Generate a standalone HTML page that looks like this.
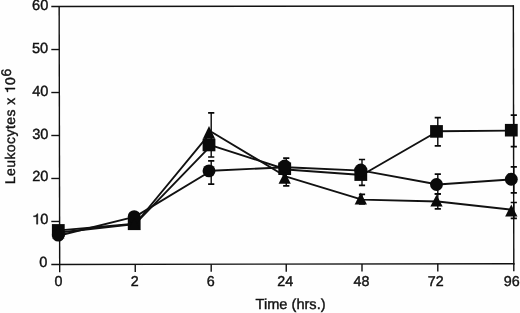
<!DOCTYPE html>
<html><head><meta charset="utf-8"><title>chart</title>
<style>
html,body{margin:0;padding:0;background:#fff;}
body{width:520px;height:313px;overflow:hidden;}
svg{display:block;}
text{font-family:"Liberation Sans",sans-serif;fill:#111;stroke:#111;stroke-width:0.4;text-rendering:geometricPrecision;}
svg{opacity:0.999;}
</style></head><body>
<svg width="520" height="313" viewBox="0 0 520 313">
<defs><filter id="gs" x="-5%" y="-5%" width="110%" height="110%" color-interpolation-filters="sRGB"><feColorMatrix type="saturate" values="0"/></filter></defs>
<rect width="520" height="313" fill="#fefefe"/>
<g filter="url(#gs)">

<g stroke="#111" stroke-width="1.4" fill="none" stroke-linecap="butt">
<path d="M59.15 5.9L59.7 272.2"/>
<path d="M51.3 6.55L514.0 5.95"/>
<path d="M513.35 5.45L513.8 264.4"/>
<path d="M51.3 264.45L514.5 263.75"/>
<path d="M51.3 221.47H59.72"/>
<path d="M51.3 178.48H59.63"/>
<path d="M51.3 135.50H59.55"/>
<path d="M51.3 92.52H59.47"/>
<path d="M51.3 49.53H59.38"/>
<path d="M135.25 264.32V271.92"/>
<path d="M211.20 264.21V271.81"/>
<path d="M286.25 264.09V271.69"/>
<path d="M362.00 263.98V271.58"/>
<path d="M437.80 263.87V271.47"/>
<path d="M513.80 263.75V271.35"/>
</g>
<g stroke="#080808" fill="none">
<path stroke-width="1.4" d="M211.20 112.80V157.00"/><path stroke-width="1.7" d="M208.10 112.80H214.30M208.10 157.00H214.30"/>
<path stroke-width="1.4" d="M211.20 160.80V184.20"/><path stroke-width="1.7" d="M208.10 160.80H214.30M208.10 184.20H214.30"/>
<path stroke-width="1.4" d="M286.25 158.20V185.80"/><path stroke-width="1.7" d="M283.15 158.20H289.35M283.15 185.80H289.35"/>
<path stroke-width="1.4" d="M362.00 159.50V185.40"/><path stroke-width="1.7" d="M358.90 159.50H365.10M358.90 185.40H365.10"/>
<path stroke-width="1.4" d="M362.00 194.30V204.00"/><path stroke-width="1.7" d="M358.90 194.30H365.10M358.90 204.00H365.10"/>
<path stroke-width="1.4" d="M437.80 117.70V145.80"/><path stroke-width="1.7" d="M434.70 117.70H440.90M434.70 145.80H440.90"/>
<path stroke-width="1.4" d="M437.80 174.20V193.90"/><path stroke-width="1.7" d="M434.70 174.20H440.90M434.70 193.90H440.90"/>
<path stroke-width="1.4" d="M437.80 194.00V208.80"/><path stroke-width="1.7" d="M434.70 194.00H440.90M434.70 208.80H440.90"/>
<path stroke-width="1.4" d="M513.80 115.10V146.60"/><path stroke-width="1.7" d="M510.70 115.10H516.90M510.70 146.60H516.90"/>
<path stroke-width="1.4" d="M513.80 166.90V192.80"/><path stroke-width="1.7" d="M510.70 166.90H516.90M510.70 192.80H516.90"/>
<path stroke-width="1.4" d="M513.80 202.50V218.30"/><path stroke-width="1.7" d="M510.70 202.50H516.90M510.70 218.30H516.90"/>
</g>
<g stroke="#111" stroke-width="1.90" fill="none" stroke-linejoin="round">
<polyline points="59.30,230.40 135.25,223.80 211.20,145.30 286.25,169.50 362.00,175.00 437.80,131.30 513.80,130.60"/>
<polyline points="59.30,235.50 135.25,216.60 211.20,170.80 286.25,167.20 362.00,170.60 437.80,184.50 513.80,179.20"/>
<polyline points="59.30,232.50 135.25,224.00 211.20,131.80 286.25,176.70 362.00,199.60 437.80,201.50 513.80,210.00"/>
</g>
<g fill="#0a0a0a" stroke="none">
<rect x="51.90" y="224.10" width="12.8" height="12.6"/>
<rect x="127.80" y="217.50" width="12.8" height="12.6"/>
<rect x="202.60" y="138.70" width="12.8" height="12.6"/>
<rect x="278.30" y="162.40" width="12.8" height="12.6"/>
<rect x="354.40" y="168.30" width="12.8" height="12.6"/>
<rect x="430.10" y="125.10" width="12.8" height="12.6"/>
<rect x="504.90" y="123.90" width="12.8" height="12.6"/>
<circle cx="58.30" cy="235.10" r="6.45"/>
<circle cx="134.20" cy="216.60" r="6.45"/>
<circle cx="209.00" cy="170.90" r="6.45"/>
<circle cx="284.70" cy="166.00" r="6.45"/>
<circle cx="360.80" cy="170.00" r="6.45"/>
<circle cx="436.50" cy="184.50" r="6.45"/>
<circle cx="511.30" cy="179.20" r="6.45"/>
<path d="M58.30 226.50L64.45 238.40H52.15Z"/>
<path d="M134.20 218.00L140.35 229.90H128.05Z"/>
<path d="M209.00 125.90L215.15 138.80H202.85Z"/>
<path d="M284.70 171.80L290.85 183.70H278.55Z"/>
<path d="M360.80 192.50L366.95 204.40H354.65Z"/>
<path d="M436.50 194.70L442.65 206.60H430.35Z"/>
<path d="M511.30 204.50L517.45 216.40H505.15Z"/>
</g>
<g font-size="14.6" text-anchor="end">
<text x="47.40" y="267.15">0</text>
<text x="48.30" y="224.15">0</text>
<path d="M36.52 224.15 L36.52 216.78 L33.55 216.78 L33.55 215.86 C35.42 215.75 36.59 215.10 36.97 213.70 L37.82 213.70 L37.82 224.15 Z" fill="#111" stroke="#111" stroke-width="0.4"/>
<text x="48.40" y="181.25">20</text>
<text x="48.40" y="139.20">30</text>
<text x="48.40" y="96.35">40</text>
<text x="48.20" y="53.45">50</text>
<text x="48.30" y="10.20">60</text>
</g>
<g font-size="14.3" text-anchor="middle">
<text x="58.60" y="286.20">0</text>
<text x="134.65" y="286.08">2</text>
<text x="210.80" y="285.97">6</text>
<text x="285.25" y="285.85">24</text>
<text x="361.50" y="285.73">48</text>
<text x="435.80" y="285.62">72</text>
<text x="511.80" y="285.50">96</text>
</g>
<text x="255.6" y="309" font-size="14.6">Time (hrs.)</text>
<g transform="translate(15 184.2) rotate(-90)"><text x="0" y="0" font-size="14" letter-spacing="0.42">Leukocytes x</text><path d="M95.07 0.00 L95.07 -7.07 L92.23 -7.07 L92.23 -7.95 C94.02 -8.05 95.14 -8.68 95.50 -10.02 L96.32 -10.02 L96.32 0.00 Z" fill="#111" stroke="#111" stroke-width="0.4"/><text x="99.1" y="0" font-size="14">0</text><text x="107.6" y="-3.7" font-size="14">6</text></g>
</g></svg></body></html>
